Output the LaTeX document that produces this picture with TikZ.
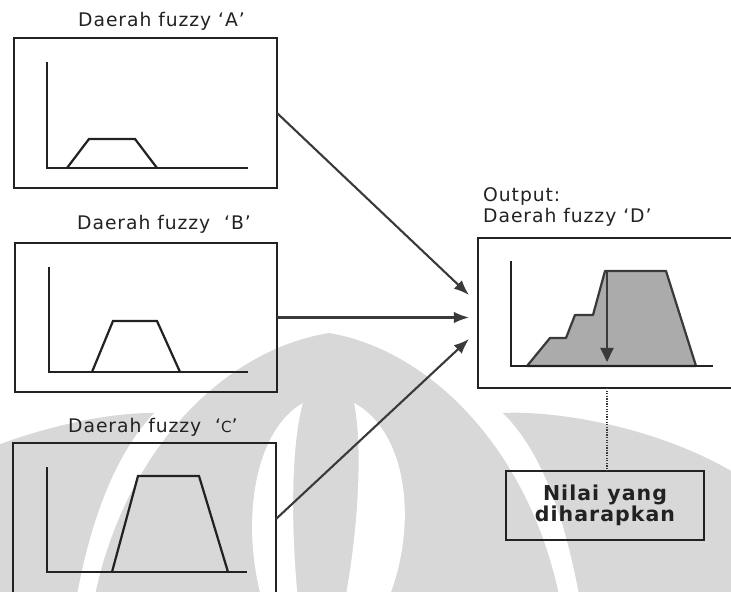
\documentclass[tikz,border=0pt]{standalone}
\usepackage{fontspec}
\setmainfont{DejaVu Sans}[LetterSpace=5]
\usetikzlibrary{arrows.meta}
\definecolor{ink}{HTML}{222222}
\definecolor{arrowink}{HTML}{3A3A3A}
\definecolor{markgray}{HTML}{D8D8D8}
\definecolor{areagray}{HTML}{ABABAB}
\begin{document}
\begin{tikzpicture}[x=0.03cm,y=-0.03cm,
  frame/.style={draw=ink, line width=2pt, inner sep=0pt, outer sep=0pt},
  title/.style={anchor=base west, inner sep=0pt, text=ink, font=\fontsize{16}{19}\selectfont},
  axisline/.style={draw=ink, line width=2pt},
  curve/.style={draw=ink, line width=1.9pt, line join=miter},
  area/.style={draw=arrowink, line width=1.9pt, fill=areagray, line join=round},
  conn/.style={draw=arrowink, line width=1.8pt, -{Latex[length=13pt,width=10pt]}},
  pointer/.style={draw=arrowink, line width=2.2pt, -{Triangle[length=12pt,width=11pt]}},
  dotline/.style={draw=arrowink, line width=1.1pt, dash pattern=on 1.1pt off 1.1pt},
  emblem/.style={fill=markgray, draw=none}]
\useasboundingbox (0,0) rectangle (731,592);
\clip (0,0) rectangle (731,592);

% faint emblem in the background
\path[emblem] (329,333) .. controls (430,350) and (530,450) .. (560,600)
  -- (94,600) .. controls (124,450) and (224,350) .. (329,333) -- cycle;
\path[emblem] (503,413) .. controls (560,410) and (680,430) .. (760,490)
  -- (760,600) -- (580,600) .. controls (562,500) and (535,445) .. (503,413) -- cycle;
\path[emblem] (154,413) .. controls (94,412) and (-26,440) .. (-106,500)
  -- (-106,600) -- (76,600) .. controls (94,500) and (124,445) .. (154,413) -- cycle;
\path[fill=white] (354,403) .. controls (405,430) and (420,520) .. (388,600)
  -- (345,600) .. controls (360,520) and (362,440) .. (354,403) -- cycle;
\path[fill=white] (303,403) .. controls (255,430) and (240,520) .. (262,600)
  -- (298,600) .. controls (290,520) and (292,440) .. (303,403) -- cycle;

% input regions
\node[frame, minimum width=7.89cm, minimum height=4.5cm] (boxA) at (145.5,113) {};
\node[frame, minimum width=7.86cm, minimum height=4.47cm] (boxB) at (146,317.5) {};
\node[frame, minimum width=7.89cm, minimum height=4.56cm] (boxC) at (144.5,519) {};
\node[title] (titleA) at (78,27) {Daerah fuzzy ‘A’};
\node[title] (titleB) at (77,229) {Daerah fuzzy\ \ ‘B’};
\node[title] (titleC) at (68,432) {Daerah fuzzy\ \ ‘{\fontsize{13}{15}\selectfont C}’};

% membership functions of A, B and C
\draw[axisline] (47,62) -- (47,168) -- (248,168);
\draw[curve] (67,168) -- (89,139) -- (135,139) -- (157,168);
\draw[axisline] (49,267) -- (49,372) -- (248,372);
\draw[curve] (92,372) -- (113,321) -- (157,321) -- (180,372);
\draw[axisline] (47,467) -- (47,572) -- (247,572);
\draw[curve] (112,572) -- (138,476) -- (199,476) -- (228,572);

% output region D
\node[frame, minimum width=8.46cm, minimum height=4.5cm] (boxD) at (619,313) {};
\node[title] (outlabel) at (483,201) {Output:};
\node[title] (titleD) at (483,222) {Daerah fuzzy ‘D’};
\draw[area] (527,366) -- (550,338) -- (566,338) -- (575,315) -- (593,315)
  -- (605,271) -- (666,271) -- (696,366) -- cycle;
\draw[axisline] (511,261) -- (511,366) -- (713,366);
\coordinate (top) at (607,272);
\coordinate (foot) at (607,362);
\draw[pointer] (top) -- (foot);

% expected value
\node[frame, minimum width=5.94cm, minimum height=2.07cm, align=center, text=ink,
  font=\fontsize{17.5}{18}\selectfont\bfseries] (nilai) at (605,505.5) {Nilai yang\\diharapkan};
\draw[dotline] (boxD.south -| foot) -- (nilai.north -| foot);

% connectors into D
\coordinate (tipA) at (469,295);
\coordinate (tipB) at (469,317.5);
\coordinate (tipC) at (469,339);
\draw[conn] (boxA.east) -- (tipA);
\draw[conn] (boxB.east) -- (tipB);
\draw[conn] (boxC.east) -- (tipC);
\end{tikzpicture}
\end{document}
